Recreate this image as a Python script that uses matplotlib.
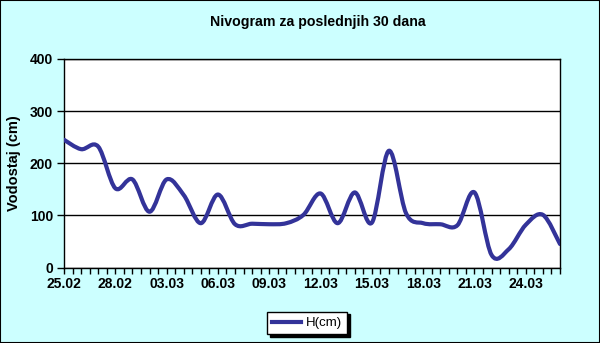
import numpy as np
import matplotlib
matplotlib.use("Agg")
import matplotlib.pyplot as plt
from matplotlib.path import Path
from matplotlib.patches import PathPatch, Rectangle
from matplotlib.lines import Line2D

plt.rcParams['font.family'] = ['Liberation Sans', 'DejaVu Sans']

# ---- data ----
title = "Nivogram za poslednjih 30 dana"
ylabel = "Vodostaj (cm)"
series_name = "H(cm)"
x_labels = ["25.02", "28.02", "03.03", "06.03", "09.03", "12.03", "15.03", "18.03", "21.03", "24.03"]
label_step = 3  # days between labels
h_values = [245, 227, 232, 152, 169, 107, 169, 139, 85, 140,
            83, 84, 83, 85, 101, 142, 85, 144, 86, 224,
            104, 85, 83, 81, 144, 24, 35, 82, 101, 45]
y_ticks = [0, 100, 200, 300, 400]

LINE_COLOR = "#333399"
BG = "#CCFFFF"

fig = plt.figure(figsize=(6.0, 3.43), dpi=100, facecolor=BG)
# figure border
fig.patches.append(Rectangle((0, 0), 1, 1, transform=fig.transFigure,
                             fill=False, edgecolor="black", linewidth=1.5, zorder=10))

ax = fig.add_axes([64/600, 1-267.5/343, (560-64)/600, (267.5-59)/343])
ax.set_facecolor("white")

x = np.arange(len(h_values), dtype=float)
y = np.array(h_values, dtype=float)

# smooth (Excel-style Bezier) line through the data points
verts = [(x[0], y[0])]
codes = [Path.MOVETO]
n = len(x)
for i in range(n - 1):
    p0 = np.array([x[max(i-1, 0)], y[max(i-1, 0)]])
    p1 = np.array([x[i], y[i]])
    p2 = np.array([x[i+1], y[i+1]])
    p3 = np.array([x[min(i+2, n-1)], y[min(i+2, n-1)]])
    c1 = p1 + (p2 - p0) / 6.0
    c2 = p2 - (p3 - p1) / 6.0
    verts += [tuple(c1), tuple(c2), tuple(p2)]
    codes += [Path.CURVE4] * 3
patch = PathPatch(Path(verts, codes), fill=False, edgecolor=LINE_COLOR,
                  linewidth=3.0, capstyle="round", joinstyle="round", zorder=3)
ax.add_patch(patch)

ax.set_xlim(0, n - 1)
ax.set_ylim(0, 400)
ax.set_yticks(y_ticks)
ax.set_yticklabels([str(v) for v in y_ticks], fontsize=10, fontweight="bold")

tick_pos = np.arange(0, n - 0.9, 0.5)
tick_lbls = []
for t in tick_pos:
    k = t / label_step
    if abs(k - round(k)) < 1e-9 and int(round(k)) < len(x_labels):
        tick_lbls.append(x_labels[int(round(k))])
    else:
        tick_lbls.append("")
ax.set_xticks(tick_pos)
ax.set_xticklabels(tick_lbls, fontsize=10, fontweight="bold")
ax.tick_params(axis="x", direction="out", length=4, width=1, color="black", pad=3)
ax.tick_params(axis="y", direction="out", length=5, width=1, color="black", pad=3)

ax.grid(axis="y", color="black", linewidth=1)
ax.set_axisbelow(True)
for s in ax.spines.values():
    s.set_color("black")
    s.set_linewidth(1)

ax.set_ylabel(ylabel, fontsize=10.5, fontweight="bold", labelpad=6)
fig.text(318/600, 1-22/343, title, ha="center", va="center", fontsize=10.2, fontweight="bold")

handle = Line2D([], [], color=LINE_COLOR, linewidth=3.0)
leg = fig.legend([handle], [series_name], loc="center", bbox_to_anchor=(307/600, 1-323/343),
                 fontsize=9.5, frameon=True, fancybox=False, edgecolor="black",
                 shadow={"color": "black", "alpha": 1.0}, handlelength=2.2,
                 handletextpad=0.3, borderpad=0.4, borderaxespad=0)
leg.get_frame().set_linewidth(1)
leg.get_frame().set_facecolor("white")

fig.savefig("out.png", dpi=100, facecolor=BG)
